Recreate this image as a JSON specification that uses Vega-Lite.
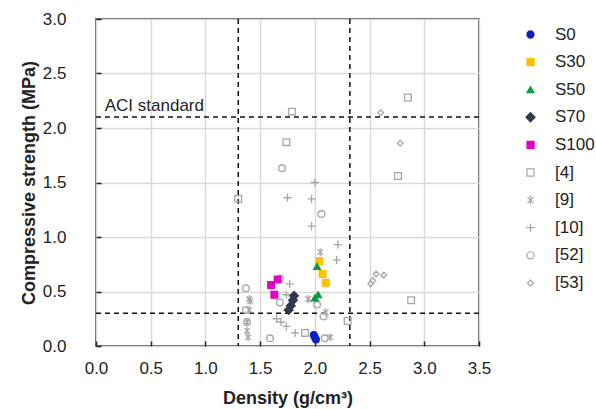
{
  "$schema": "https://vega.github.io/schema/vega-lite/v6.json",
  "width": 383,
  "height": 327,
  "autosize": {"type": "none"},
  "padding": {"left": 96, "top": 19, "right": 117, "bottom": 63},
  "background": "white",
  "config": {
    "font": "Liberation Sans",
    "view": {"stroke": "#222222", "strokeWidth": 1.5},
    "axis": {
      "grid": true,
      "gridColor": "#d9d9d9",
      "gridWidth": 1.5,
      "domain": false,
      "tickColor": "#222222",
      "tickWidth": 1.5,
      "tickSize": -5,
      "labelFontSize": 17,
      "labelColor": "#222222",
      "labelFlush": false,
      "titleFontSize": 18,
      "titleFontWeight": "bold",
      "titleColor": "#222222"
    }
  },
  "datasets": {
    "points": [
      {"series": "[4]", "density": 1.30, "strength": 1.35},
      {"series": "[4]", "density": 1.79, "strength": 2.15},
      {"series": "[4]", "density": 1.74, "strength": 1.87},
      {"series": "[4]", "density": 2.85, "strength": 2.28},
      {"series": "[4]", "density": 2.76, "strength": 1.56},
      {"series": "[4]", "density": 2.88, "strength": 0.42},
      {"series": "[4]", "density": 2.30, "strength": 0.23},
      {"series": "[4]", "density": 1.91, "strength": 0.12},
      {"series": "[9]", "density": 1.40, "strength": 0.43},
      {"series": "[9]", "density": 1.41, "strength": 0.41},
      {"series": "[9]", "density": 1.40, "strength": 0.33},
      {"series": "[9]", "density": 1.38, "strength": 0.22},
      {"series": "[9]", "density": 1.38, "strength": 0.14},
      {"series": "[9]", "density": 1.39, "strength": 0.08},
      {"series": "[9]", "density": 1.94, "strength": 0.43},
      {"series": "[9]", "density": 2.05, "strength": 0.86},
      {"series": "[9]", "density": 2.10, "strength": 0.31},
      {"series": "[9]", "density": 2.14, "strength": 0.08},
      {"series": "[10]", "density": 2.00, "strength": 1.50},
      {"series": "[10]", "density": 1.75, "strength": 1.36},
      {"series": "[10]", "density": 1.97, "strength": 1.35},
      {"series": "[10]", "density": 1.97, "strength": 1.10},
      {"series": "[10]", "density": 2.21, "strength": 0.93},
      {"series": "[10]", "density": 2.20, "strength": 0.79},
      {"series": "[10]", "density": 1.77, "strength": 0.57},
      {"series": "[10]", "density": 1.74, "strength": 0.47},
      {"series": "[10]", "density": 1.65, "strength": 0.25},
      {"series": "[10]", "density": 1.69, "strength": 0.22},
      {"series": "[10]", "density": 1.74, "strength": 0.18},
      {"series": "[10]", "density": 1.82, "strength": 0.12},
      {"series": "[52]", "density": 1.70, "strength": 1.63},
      {"series": "[52]", "density": 2.06, "strength": 1.21},
      {"series": "[52]", "density": 1.68, "strength": 0.62},
      {"series": "[52]", "density": 1.68, "strength": 0.40},
      {"series": "[52]", "density": 2.02, "strength": 0.38},
      {"series": "[52]", "density": 2.08, "strength": 0.27},
      {"series": "[52]", "density": 1.37, "strength": 0.53},
      {"series": "[52]", "density": 1.37, "strength": 0.33},
      {"series": "[52]", "density": 1.38, "strength": 0.22},
      {"series": "[52]", "density": 1.59, "strength": 0.07},
      {"series": "[52]", "density": 2.09, "strength": 0.07},
      {"series": "[53]", "density": 2.60, "strength": 2.14},
      {"series": "[53]", "density": 2.78, "strength": 1.86},
      {"series": "[53]", "density": 2.63, "strength": 0.65},
      {"series": "[53]", "density": 2.56, "strength": 0.66},
      {"series": "[53]", "density": 2.53, "strength": 0.60},
      {"series": "[53]", "density": 2.51, "strength": 0.57},
      {"series": "S0", "density": 1.99, "strength": 0.10},
      {"series": "S0", "density": 2.00, "strength": 0.08},
      {"series": "S0", "density": 2.01, "strength": 0.06},
      {"series": "S30", "density": 2.04, "strength": 0.78},
      {"series": "S30", "density": 2.07, "strength": 0.66},
      {"series": "S30", "density": 2.10, "strength": 0.58},
      {"series": "S50", "density": 2.02, "strength": 0.73},
      {"series": "S50", "density": 2.00, "strength": 0.44},
      {"series": "S50", "density": 2.03, "strength": 0.47},
      {"series": "S70", "density": 1.81, "strength": 0.46},
      {"series": "S70", "density": 1.80, "strength": 0.42},
      {"series": "S70", "density": 1.78, "strength": 0.37},
      {"series": "S70", "density": 1.76, "strength": 0.33},
      {"series": "S100", "density": 1.60, "strength": 0.56},
      {"series": "S100", "density": 1.66, "strength": 0.61},
      {"series": "S100", "density": 1.63, "strength": 0.47}
    ],
    "vlines": [{"x": 1.3}, {"x": 2.32}],
    "hlines": [{"y": 2.1}, {"y": 0.3}],
    "labels": [{"x": 0.08, "y": 2.16, "text": "ACI standard"}]
  },
  "layer": [
    {
      "data": {"name": "vlines"},
      "mark": {"type": "rule", "color": "#111111", "strokeWidth": 1.5, "strokeDash": [5, 4]},
      "encoding": {
        "x": {"field": "x", "type": "quantitative", "scale": {"domain": [0, 3.5], "nice": false}}
      }
    },
    {
      "data": {"name": "hlines"},
      "mark": {"type": "rule", "color": "#111111", "strokeWidth": 1.5, "strokeDash": [5, 4]},
      "encoding": {
        "y": {"field": "y", "type": "quantitative", "scale": {"domain": [0, 3], "nice": false}}
      }
    },
    {
      "data": {"name": "labels"},
      "mark": {"type": "text", "align": "left", "baseline": "alphabetic", "fontSize": 17, "color": "#222222"},
      "encoding": {
        "x": {"field": "x", "type": "quantitative"},
        "y": {"field": "y", "type": "quantitative"},
        "text": {"field": "text"}
      }
    },
    {
      "data": {"name": "points"},
      "mark": {"type": "point", "opacity": 1, "strokeWidth": 1.3, "size": 45},
      "encoding": {
        "x": {
          "field": "density", "type": "quantitative",
          "scale": {"domain": [0, 3.5], "nice": false},
          "axis": {"values": [0, 0.5, 1, 1.5, 2, 2.5, 3, 3.5], "format": ".1f", "labelPadding": 19, "title": "Density (g/cm³)", "titlePadding": 13}
        },
        "y": {
          "field": "strength", "type": "quantitative",
          "scale": {"domain": [0, 3], "nice": false},
          "axis": {"values": [0, 0.5, 1, 1.5, 2, 2.5, 3], "format": ".1f", "labelPadding": 35, "title": "Compressive strength (MPa)", "titlePadding": 4}
        },
        "shape": {
          "field": "series", "type": "nominal",
          "scale": {
            "domain": ["S0", "S30", "S50", "S70", "S100", "[4]", "[9]", "[10]", "[52]", "[53]"],
            "range": ["circle", "square", "triangle-up",
              "M0,-1.3L1.3,0L0,1.3L-1.3,0Z",
              "square", "square",
              "M-0.85,-0.85L0.85,0.85M-0.85,0.85L0.85,-0.85M0,-1.2L0,1.2",
              "M-1.2,0L1.2,0M0,-1.2L0,1.2",
              "circle",
              "M0,-0.85L0.85,0L0,0.85L-0.85,0Z"]
          },
          "legend": {
            "title": null, "orient": "none", "legendX": 426, "legendY": 7,
            "labelFontSize": 17, "labelColor": "#222222", "rowPadding": 9.6,
            "labelOffset": 16, "symbolSize": 50, "padding": 0, "symbolStrokeWidth": 1.2
          }
        },
        "fill": {
          "field": "series", "type": "nominal",
          "scale": {
            "domain": ["S0", "S30", "S50", "S70", "S100", "[4]", "[9]", "[10]", "[52]", "[53]"],
            "range": ["#0a1fc4", "#ffc000", "#0a9a3c", "#2e3a50", "#e600c3", "transparent", "transparent", "transparent", "transparent", "transparent"]
          }
        },
        "stroke": {
          "field": "series", "type": "nominal",
          "scale": {
            "domain": ["S0", "S30", "S50", "S70", "S100", "[4]", "[9]", "[10]", "[52]", "[53]"],
            "range": ["#0a1fc4", "#ffc000", "#0a9a3c", "#2e3a50", "#e600c3", "#a6a6a6", "#a6a6a6", "#a6a6a6", "#a6a6a6", "#a6a6a6"]
          }
        }
      }
    }
  ]
}
